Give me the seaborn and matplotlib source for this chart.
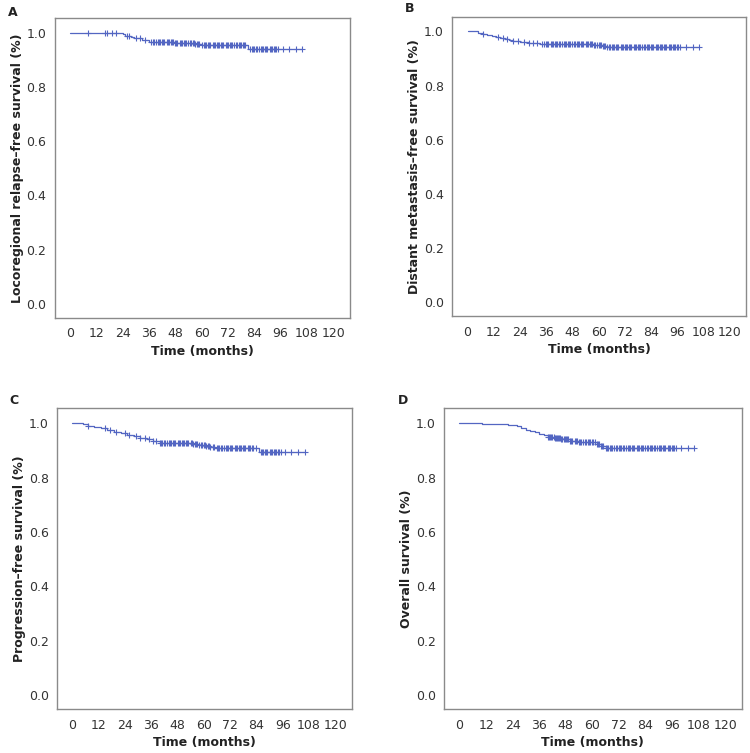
import matplotlib
matplotlib.use("Agg")
import matplotlib.pyplot as plt
import seaborn as sns
import pandas as pd

# step curves: event times (months) and survival just after each event
a_times = [24, 25, 28, 29, 33, 36, 42, 48, 53, 57, 60, 81]
a_surv = [0.995, 0.989, 0.985, 0.980, 0.975, 0.968, 0.966, 0.964, 0.962, 0.958, 0.956, 0.942]
a_cens = [8, 16, 17, 19, 21, 26, 27, 30, 32, 34, 37, 38, 39, 40, 41, 42, 43, 44, 45, 46, 47, 48,
          49, 50, 51, 52, 53, 54, 55, 56, 57, 58, 59, 60, 61, 62, 63, 64, 65, 66, 67, 68, 69, 70,
          71, 72, 73, 74, 75, 76, 77, 78, 79, 80, 82, 83, 84, 85, 86, 87, 88, 89, 90, 91, 92,
          93, 94, 95, 97, 100, 103, 106,
          38.5, 40.5, 42.5, 44.5, 46.5, 48.5, 50.5, 52.5, 54.5, 56.5, 58.5, 61.5, 63.5, 65.5,
          67.5, 69.5, 71.5, 73.5, 75.5, 77.5, 79.5, 83.5, 85.5, 87.5, 89.5, 91.5, 93.5]

b_times = [5, 7, 9, 11, 13, 15, 17, 19, 21, 24, 28, 33, 40, 58, 62, 64]
b_surv = [0.995, 0.991, 0.987, 0.984, 0.980, 0.976, 0.972, 0.968, 0.964, 0.961, 0.958, 0.955,
          0.952, 0.949, 0.946, 0.942]
b_cens = [7, 14, 16, 18, 21, 23, 26, 28, 30, 32, 34, 35, 36, 37, 38, 39, 40, 41, 42, 43, 44, 45,
          46, 47, 48, 49, 50, 51, 52, 53, 54, 55, 56, 57, 58, 59, 60, 61, 62, 63, 64, 65, 66, 67,
          68, 69, 70, 71, 72, 73, 74, 75, 76, 77, 78, 79, 80, 81, 82, 83, 84, 85, 86, 87, 88, 89,
          90, 91, 92, 93, 94, 95, 96, 97, 100, 103, 106,
          36.5, 38.5, 40.5, 42.5, 44.5, 46.5, 48.5, 50.5, 52.5, 54.5, 56.5, 58.5, 60.5, 62.5,
          64.5, 66.5, 68.5, 70.5, 72.5, 74.5, 76.5, 78.5, 80.5, 82.5, 84.5, 86.5, 88.5, 90.5,
          92.5, 94.5, 96.5]

c_times = [5, 7, 10, 13, 16, 19, 22, 25, 28, 31, 34, 37, 40, 55, 58, 61, 63, 65, 85]
c_surv = [0.995, 0.991, 0.986, 0.981, 0.975, 0.969, 0.963, 0.957, 0.951, 0.946, 0.940, 0.934,
          0.928, 0.924, 0.919, 0.915, 0.912, 0.909, 0.893]
c_cens = [7, 15, 17, 20, 24, 26, 29, 31, 33, 35, 37, 38, 40, 41, 42, 43, 44, 45, 46, 47, 48, 49,
          50, 51, 52, 53, 54, 55, 56, 57, 58, 59, 60, 61, 62, 63, 64, 66, 67, 68, 69, 70, 71, 72,
          73, 74, 75, 76, 77, 78, 79, 80, 81, 82, 84, 86, 87, 88, 89, 90, 91, 92, 93, 94, 95,
          97, 100, 103, 106,
          40.5, 42.5, 44.5, 46.5, 48.5, 50.5, 52.5, 54.5, 56.5, 58.5, 60.5, 62.5, 64.5, 66.5,
          68.5, 70.5, 72.5, 74.5, 76.5, 78.5, 80.5, 82.5, 86.5, 88.5, 90.5, 92.5, 94.5]

d_times = [10, 16, 22, 26, 28, 30, 32, 34, 36, 38, 40, 43, 46, 50, 54, 57, 62, 64, 66]
d_surv = [0.998, 0.995, 0.992, 0.988, 0.983, 0.976, 0.971, 0.966, 0.961, 0.956, 0.950, 0.945,
          0.940, 0.936, 0.932, 0.929, 0.924, 0.917, 0.910]
d_cens = [40, 41, 42, 43, 44, 45, 46, 47, 48, 49, 50, 51, 52, 53, 54, 55, 56, 57, 58, 59, 60, 61,
          62, 63, 64, 65, 66, 67, 68, 69, 70, 71, 72, 73, 74, 75, 76, 77, 78, 79, 80, 81, 82, 83,
          84, 85, 86, 87, 88, 89, 90, 91, 92, 93, 94, 95, 96, 97, 98, 100, 103, 106,
          40.5, 41.5, 42.5, 43.5, 44.5, 45.5, 46.5, 47.5, 48.5, 50.5, 52.5, 54.5, 56.5, 58.5,
          60.5, 62.5, 64.5, 66.5, 68.5, 70.5, 72.5, 74.5, 76.5, 78.5, 80.5, 82.5, 84.5, 86.5,
          88.5, 90.5, 92.5, 94.5, 96.5]

panels = [
    ("A", "Locoregional relapse\u2013free survival (%)", a_times, a_surv, a_cens),
    ("B", "Distant metastasis\u2013free survival (%)", b_times, b_surv, b_cens),
    ("C", "Progression\u2013free survival (%)", c_times, c_surv, c_cens),
    ("D", "Overall survival (%)", d_times, d_surv, d_cens),
]

# axes rectangles in figure fraction, and letter positions
rects = [[0.073, 0.578, 0.393, 0.398],
         [0.603, 0.580, 0.392, 0.398],
         [0.076, 0.058, 0.393, 0.400],
         [0.592, 0.058, 0.397, 0.400]]
letters = [(0.010, 0.984), (0.540, 0.989), (0.013, 0.468), (0.530, 0.468)]

sns.set_style("white")
plt.rcParams["font.family"] = ["DejaVu Sans"]
col = "#5366c2"
frame = "#8a8a8a"

fig = plt.figure(figsize=(7.5, 7.53), dpi=100)

for (letter, ylab, times, surv, cens), rect, lpos in zip(panels, rects, letters):
    ax = fig.add_axes(rect)
    xs = [0] + times + [max(cens)]
    ys = [1.0] + surv + [surv[-1]]
    line = pd.DataFrame({"t": xs, "s": ys})
    sns.lineplot(data=line, x="t", y="s", drawstyle="steps-post", estimator=None,
                 color=col, linewidth=0.9, ax=ax)
    # survival at each censor time
    cy = []
    for c in cens:
        v = 1.0
        for t, s in zip(times, surv):
            if t <= c:
                v = s
        cy.append(v)
    cdf = pd.DataFrame({"t": cens, "s": cy})
    sns.scatterplot(data=cdf, x="t", y="s", marker="+", s=24, color=col,
                    linewidth=0.8, ax=ax)

    ax.set_xlim(-7, 127.5)
    ax.set_ylim(-0.052, 1.055)
    ax.set_xticks([0, 12, 24, 36, 48, 60, 72, 84, 96, 108, 120])
    ax.set_yticks([0.0, 0.2, 0.4, 0.6, 0.8, 1.0])
    ax.set_yticklabels(["0.0", "0.2", "0.4", "0.6", "0.8", "1.0"])
    ax.tick_params(direction="out", length=4, width=0.9, color=frame,
                   labelsize=9, labelcolor="#333333", pad=2)
    ax.tick_params(axis="x", length=5)
    for sp in ax.spines.values():
        sp.set_color(frame)
        sp.set_linewidth(1.0)
    ax.set_xlabel("Time (months)", fontsize=9, fontweight="bold", color="#222222", labelpad=3)
    ax.set_ylabel(ylab, fontsize=9, fontweight="bold", color="#222222", labelpad=2)
    fig.text(lpos[0], lpos[1], letter, fontsize=9, fontweight="bold", color="#222222",
             ha="left", va="center")

fig.savefig("out.png", dpi=100)
